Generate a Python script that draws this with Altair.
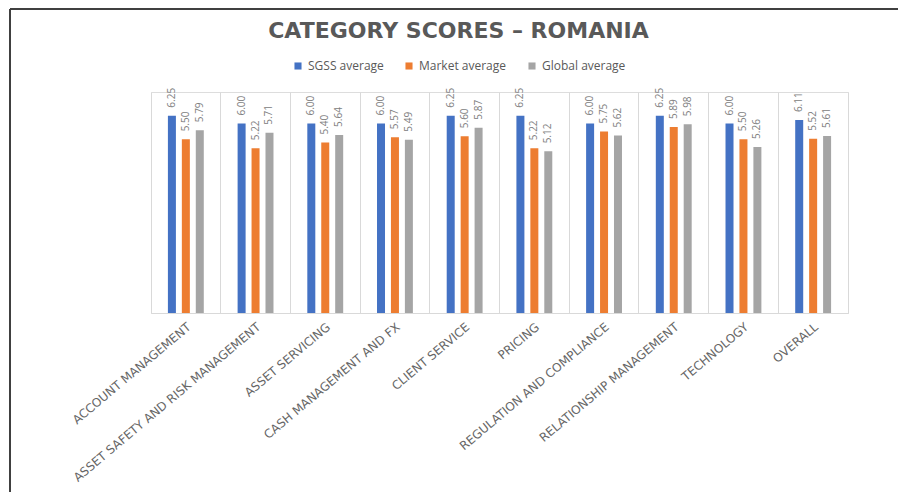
import altair as alt
import pandas as pd

categories = [
    "ACCOUNT MANAGEMENT",
    "ASSET SAFETY AND RISK MANAGEMENT",
    "ASSET SERVICING",
    "CASH MANAGEMENT AND FX",
    "CLIENT SERVICE",
    "PRICING",
    "REGULATION AND COMPLIANCE",
    "RELATIONSHIP MANAGEMENT",
    "TECHNOLOGY",
    "OVERALL",
]
series = ["SGSS average", "Market average", "Global average"]
sgss = [6.25, 6.00, 6.00, 6.00, 6.25, 6.25, 6.00, 6.25, 6.00, 6.11]
market = [5.50, 5.22, 5.40, 5.57, 5.60, 5.22, 5.75, 5.89, 5.50, 5.52]
global_avg = [5.79, 5.71, 5.64, 5.49, 5.87, 5.12, 5.62, 5.98, 5.26, 5.61]
colors = ["#4472C4", "#ED7D31", "#A5A5A5"]

rows = []
for name, vals in zip(series, [sgss, market, global_avg]):
    for c, v in zip(categories, vals):
        rows.append({"category": c, "series": name, "value": v})
df = pd.DataFrame(rows)

W, H = 697, 221

x_enc = alt.X(
    "category:N",
    sort=categories,
    scale=alt.Scale(paddingInner=0, paddingOuter=0),
    axis=alt.Axis(
        title=None,
        labelAngle=-40,
        grid=True,
        gridColor="#d9d9d9",
        bandPosition=0,
        ticks=False,
        domainColor="#d9d9d9",
        labelFont="DejaVu Sans",
        labelFontSize=12,
        labelColor="#666666",
        labelPadding=8,
        labelLimit=400,
    ),
)
xo_enc = alt.XOffset(
    "series:N", sort=series, scale=alt.Scale(paddingInner=0, paddingOuter=1)
)
y_enc = alt.Y(
    "value:Q",
    scale=alt.Scale(domain=[0, 7], nice=False),
    axis=alt.Axis(
        orient="right",
        title=None,
        labels=False,
        ticks=False,
        grid=False,
        domain=True,
        domainColor="#d9d9d9",
    ),
)

bars = alt.Chart(df).mark_bar(width=8).encode(
    x=x_enc,
    xOffset=xo_enc,
    y=y_enc,
    color=alt.Color(
        "series:N",
        sort=series,
        scale=alt.Scale(domain=series, range=colors),
        legend=alt.Legend(
            title=None,
            orient="none",
            direction="horizontal",
            legendX=141,
            legendY=-32,
            symbolType="square",
            symbolSize=50,
            symbolStrokeWidth=0,
            labelFont="Open Sans",
            labelFontSize=12,
            labelColor="#595959",
            columnPadding=19,
            padding=0,
        ),
    ),
)

labels = alt.Chart(df).mark_text(
    angle=270,
    align="left",
    baseline="middle",
    dx=8,
    font="Open Sans",
    fontSize=10,
    color="#808080",
).encode(
    x=x_enc,
    xOffset=xo_enc,
    y=y_enc,
    text=alt.Text("value:Q", format=".2f"),
)

frame_data = alt.Data(values=[{"k": 1}])
top_line = alt.Chart(frame_data).mark_rule(color="#404040", strokeWidth=2).encode(
    x=alt.value(-141), x2=alt.value(747), y=alt.value(-83)
)
left_line = alt.Chart(frame_data).mark_rule(color="#404040", strokeWidth=2).encode(
    x=alt.value(-141), y=alt.value(-83), y2=alt.value(410)
)

chart = (
    alt.layer(bars, labels, top_line, left_line)
    .properties(
        width=W,
        height=H,
        title=alt.TitleParams(
            "CATEGORY SCORES – ROMANIA",
            anchor="middle",
            frame="group",
            dx=-41,
            dy=35,
            font="DejaVu Sans",
            fontSize=22,
            fontWeight="bold",
            color="#595959",
            offset=0,
        ),
        autosize=alt.AutoSizeParams(type="none"),
        padding={"left": 143, "top": 84, "right": 50, "bottom": 179},
    )
    .configure_view(stroke=None)
    .configure(background="white")
)

chart.save("out.html", embed_options={"renderer": "svg", "actions": False})
